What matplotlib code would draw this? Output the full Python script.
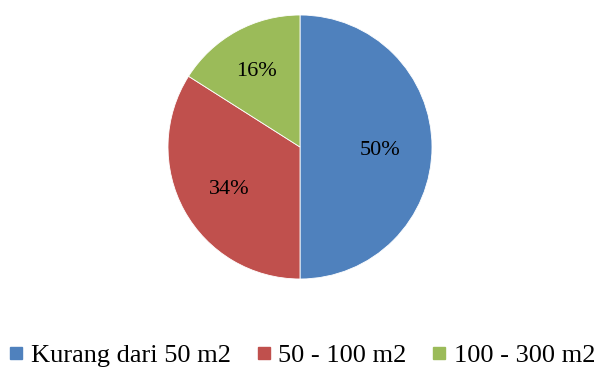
import numpy as np
import matplotlib.pyplot as plt
from matplotlib.lines import Line2D

plt.rcParams['font.family'] = ['Liberation Serif', 'DejaVu Serif']

# data
labels = ['Kurang dari 50 m2', '50 - 100 m2', '100 - 300 m2']
values = [50, 34, 16]
colors = ['#4F81BD', '#C0504D', '#9BBB59']

fig = plt.figure(figsize=(5.99, 3.67), dpi=100)
W, H = 599, 367
cx, cy, r = 300, 147, 132
ax = fig.add_axes([(cx - r) / W, (H - cy - r) / H, 2 * r / W, 2 * r / H])

wedges, texts = ax.pie(
    values, colors=colors, startangle=90, counterclock=False, radius=1,
    wedgeprops=dict(edgecolor='white', linewidth=0.6))

# percentage labels, pushed a bit like the excel layout
dists = [0.61, 0.61, 0.69]
total = sum(values)
for w, v, d in zip(wedges, values, dists):
    ang = np.deg2rad((w.theta1 + w.theta2) / 2)
    ax.text(d * np.cos(ang), d * np.sin(ang) - 0.03, f'{v / total * 100:.0f}%',
            ha='center', va='center', fontsize=16, color='black')

ax.set_xlim(-1, 1)
ax.set_ylim(-1, 1)
ax.set_aspect('equal')

handles = [Line2D([0], [0], marker='s', linestyle='none', markersize=8,
                  markerfacecolor=c, markeredgecolor=c) for c in colors]
fig.legend(handles, labels, loc='center', ncol=3,
           bbox_to_anchor=(0.505, 1 - 355 / H), frameon=False,
           fontsize=19, handlelength=0.5, handletextpad=0.3,
           columnspacing=1.0, borderaxespad=0)

fig.savefig('out.png', dpi=100)
